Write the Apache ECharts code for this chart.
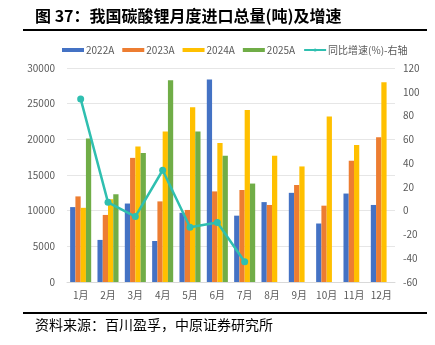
<!DOCTYPE html>
<html><head><meta charset="utf-8">
<script src="https://cdn.jsdelivr.net/npm/echarts@6/dist/echarts.min.js"></script>
<style>html,body{margin:0;padding:0;background:#fff}#c{width:435px;height:345px}</style>
</head><body><div id="c"></div>
<script>
const months = ['1月','2月','3月','4月','5月','6月','7月','8月','9月','10月','11月','12月'];
const s2022 = [10500, 5900, 11000, 5750, 9700, 28400, 9300, 11200, 12500, 8200, 12400, 10800];
const s2023 = [12000, 9400, 17400, 11300, 10100, 12700, 12900, 10800, 13600, 10700, 17000, 20300];
const s2024 = [10400, 11600, 19000, 21100, 24500, 19500, 24100, 17700, 16200, 23200, 19200, 28000];
const s2025 = [20100, 12300, 18100, 28300, 21100, 17700, 13800, '-', '-', '-', '-', '-'];
const yoy = [94, 7, -5, 34, -14, -10, -43, '-', '-', '-', '-', '-'];
const names = ['2022A','2023A','2024A','2025A','同比增速(%)-右轴'];
const colors = ['#4472C4','#ED7D31','#FFC000','#70AD47','#2FBFB0'];
const font = '"Noto Sans CJK SC", "Noto Sans", sans-serif';

const chart = echarts.init(document.getElementById('c'));
const bar = (i, d) => ({name: names[i], type: 'bar', data: d, yAxisIndex: 0,
  barGap: '0%', barCategoryGap: '23%', itemStyle: {color: colors[i]}});
chart.setOption({
  animation: false,
  textStyle: {fontFamily: font},
  graphic: [
    {type: 'text', left: 35, top: 8, style: {text: '图 37：我国碳酸锂月度进口总量(吨)及增速', font: 'bold 16px ' + font, fill: '#000'}},
    {type: 'rect', shape: {x: 23, y: 29, width: 404, height: 2}, style: {fill: '#000'}},
    {type: 'rect', shape: {x: 23, y: 312, width: 404, height: 2}, style: {fill: '#000'}},
    {type: 'text', left: 35, top: 318, style: {text: '资料来源：百川盈孚，中原证券研究所', font: '14px ' + font, fill: '#000'}}
  ],
  legend: {
    top: 40, left: 57, itemWidth: 22, itemHeight: 4, itemGap: 8,
    textStyle: {fontSize: 10, color: '#595959', padding: [0, 0, 0, -3]},
    data: names.slice(0, 4).map(n => ({name: n, icon: 'rect'})).concat([{name: names[4]}])
  },
  grid: {left: 67, right: 40, top: 68, bottom: 63, containLabel: false},
  xAxis: {type: 'category', data: months,
    axisLine: {lineStyle: {color: '#D9D9D9'}}, axisTick: {show: false},
    axisLabel: {color: '#595959', fontSize: 10, margin: 8, interval: 0}},
  yAxis: [
    {type: 'value', min: 0, max: 30000, interval: 5000,
      axisLabel: {color: '#595959', fontSize: 10, margin: 12, formatter: v => String(v)},
      axisLine: {show: false}, axisTick: {show: false},
      splitLine: {lineStyle: {color: '#E6E6E6'}}},
    {type: 'value', min: -60, max: 120, interval: 20,
      axisLabel: {color: '#595959', fontSize: 10, margin: 8},
      axisLine: {show: false}, axisTick: {show: false}, splitLine: {show: false}}
  ],
  series: [
    bar(0, s2022), bar(1, s2023), bar(2, s2024), bar(3, s2025),
    {name: names[4], type: 'line', yAxisIndex: 1, data: yoy,
      symbol: 'circle', symbolSize: 7,
      lineStyle: {color: colors[4], width: 2.5}, itemStyle: {color: colors[4]}}
  ]
});
</script></body></html>
